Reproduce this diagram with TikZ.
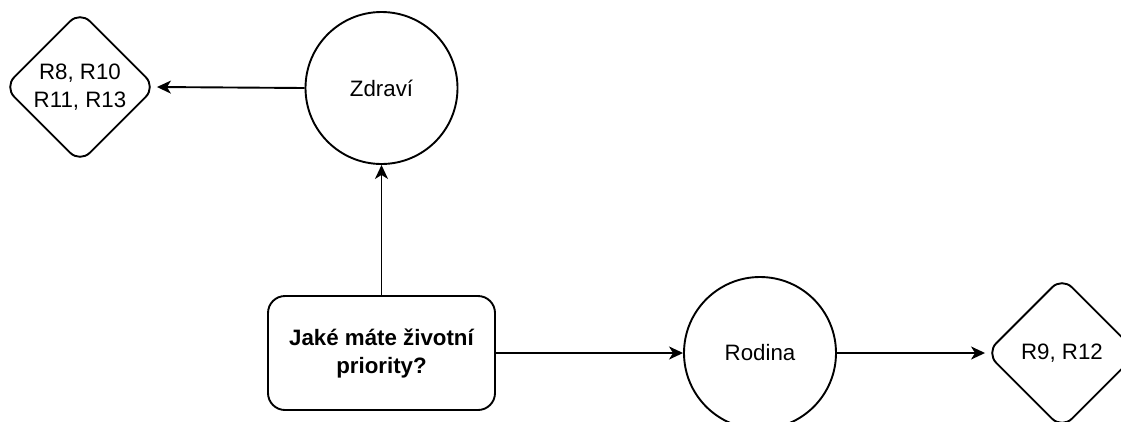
\documentclass[tikz,border=0pt]{standalone}
\usepackage{fontspec}
\setmainfont{Liberation Sans}
\usetikzlibrary{shapes.geometric,arrows.meta}
\begin{document}
\begin{tikzpicture}[x=1pt,y=-1pt,
  every node/.style={font=\fontsize{22.3}{28}\selectfont, align=center, inner sep=0pt},
  topic/.style={circle, draw, line width=1.9pt, minimum size=152pt},
  rules/.style={diamond, draw, line width=1.9pt, minimum width=152pt, minimum height=152pt, rounded corners=14pt},
  question/.style={rectangle, draw, line width=1.9pt, minimum width=227pt, minimum height=114pt,
    rounded corners=17pt, font=\fontsize{22.3}{28}\selectfont\bfseries},
  link/.style={line width=1.9pt, -{Stealth[length=14pt,width=13pt,inset=4pt]}}
]
\useasboundingbox (0,0) rectangle (1121,421);

% nodes
\node[rules]    (r1) at (80,87)    {R8, R10\\R11, R13};
\node[topic]    (zd) at (381.5,88) {Zdraví};
\node[question] (q)  at (381.5,353) {Jaké máte životní\\priority?};
\node[topic]    (ro) at (760,353)  {Rodina};
\node[rules]    (r2) at (1062,353) {R9, R12};

% connectors
\draw[link] (zd.west) -- (r1.east);
\draw[link] (q.north) -- (zd.south);
\draw[link] (q.east)  -- (ro.west);
\draw[link] (ro.east) -- (r2.west);
\end{tikzpicture}
\end{document}
